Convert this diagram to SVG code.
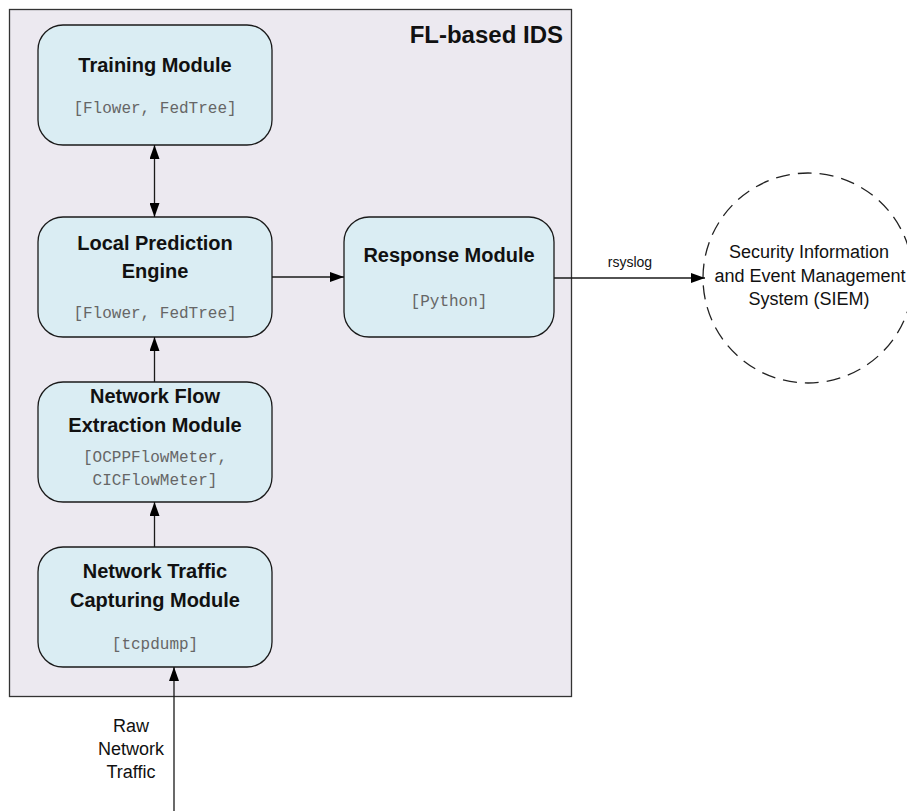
<svg xmlns="http://www.w3.org/2000/svg" width="907" height="811" viewBox="0 0 907 811">
<style>
.box{fill:#DAEDF3;stroke:#1a1a1a;stroke-width:1.3}
.t{font-family:"Liberation Sans",Arial,sans-serif;font-weight:bold;font-size:20px;fill:#111;text-anchor:middle}
.m{font-family:"Liberation Mono","Courier New",monospace;font-size:16px;fill:#666;text-anchor:middle}
.r{font-family:"Liberation Sans",Arial,sans-serif;font-size:18px;fill:#111;text-anchor:middle}
.c{stroke:#1a1a1a;stroke-width:1.3;fill:none}
</style>
<defs>
<marker id="ah" viewBox="0 0 14 10" refX="14" refY="5" markerWidth="14" markerHeight="10" markerUnits="userSpaceOnUse" orient="auto-start-reverse">
<path d="M0,0 L14,5 L0,10 z" fill="#000"/>
</marker>
</defs>
<rect width="907" height="811" fill="#fff"/>
<g id="container">
<rect x="9.5" y="9.5" width="562" height="687" fill="#ECE9F0" stroke="#333" stroke-width="1.3"/>
<text x="563" y="43" font-family="Liberation Sans,Arial,sans-serif" font-weight="bold" font-size="24" fill="#111" text-anchor="end">FL-based IDS</text>
</g>
<g id="training">
<rect class="box" x="38" y="25" width="234" height="120" rx="25"/>
<text class="t" x="155" y="72">Training Module</text>
<text class="m" x="155" y="113">[Flower, FedTree]</text>
</g>
<g id="prediction">
<rect class="box" x="38" y="217" width="234" height="120" rx="25"/>
<text class="t" x="155" y="250">Local Prediction</text>
<text class="t" x="155" y="278">Engine</text>
<text class="m" x="155" y="318">[Flower, FedTree]</text>
</g>
<g id="response">
<rect class="box" x="344" y="217" width="210" height="120" rx="25"/>
<text class="t" x="449" y="262">Response Module</text>
<text class="m" x="449" y="306">[Python]</text>
</g>
<g id="flow">
<rect class="box" x="38" y="382" width="234" height="120" rx="25"/>
<text class="t" x="155" y="403">Network Flow</text>
<text class="t" x="155" y="432">Extraction Module</text>
<text class="m" x="155" y="462">[OCPPFlowMeter,</text>
<text class="m" x="155" y="485">CICFlowMeter]</text>
</g>
<g id="capture">
<rect class="box" x="38" y="547" width="234" height="120" rx="25"/>
<text class="t" x="155" y="578">Network Traffic</text>
<text class="t" x="155" y="607">Capturing Module</text>
<text class="m" x="155" y="649">[tcpdump]</text>
</g>
<g id="siem">
<circle cx="808" cy="278" r="105" fill="none" stroke="#222" stroke-width="1.3" stroke-dasharray="14,8"/>
<text class="r" x="809" y="258">Security Information</text>
<text class="r" x="810" y="282">and Event Management</text>
<text class="r" x="809" y="305">System (SIEM)</text>
</g>
<g id="connectors">
<line class="c" x1="154.5" y1="145" x2="154.5" y2="217" marker-start="url(#ah)" marker-end="url(#ah)"/>
<line class="c" x1="154.5" y1="382" x2="154.5" y2="337" marker-end="url(#ah)"/>
<line class="c" x1="154.5" y1="547" x2="154.5" y2="502" marker-end="url(#ah)"/>
<line class="c" x1="174" y1="811" x2="174" y2="667" marker-end="url(#ah)"/>
<line class="c" x1="272" y1="277" x2="344" y2="277" marker-end="url(#ah)"/>
<line class="c" x1="554" y1="278" x2="705" y2="278" marker-end="url(#ah)"/>
<text x="630" y="267" font-family="Liberation Sans,Arial,sans-serif" font-size="14" fill="#111" text-anchor="middle">rsyslog</text>
<text class="r" x="131" y="732">Raw</text>
<text class="r" x="131" y="755">Network</text>
<text class="r" x="131" y="778">Traffic</text>
</g>
</svg>
